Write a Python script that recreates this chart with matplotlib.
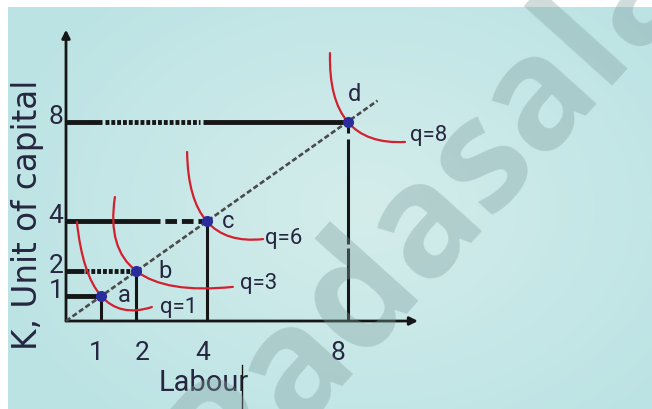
import matplotlib.pyplot as plt
import numpy as np
from matplotlib.path import Path
from matplotlib.patches import PathPatch

# expansion path: equal steps of labour and capital
labour = [1, 2, 4, 8]
capital = [1, 2, 4, 8]
point_names = ["a", "b", "c", "d"]
output_levels = [1, 3, 6, 8]

# isoquant ends (top-left start, bottom-right end), each passes through its point
iso_start_x = [0.31, 1.39, 3.44, 7.50]
iso_start_y = [3.98, 4.98, 6.79, 10.76]
iso_end_x = [2.44, 4.74, 5.60, 9.63]
iso_end_y = [0.56, 1.37, 3.29, 7.19]

x_ticks = [1, 2, 4, 8]
y_ticks = [1, 2, 4, 8]
ray_end = 8.85
x_axis_end = 10.0
y_axis_end = 11.7

font = ["Roboto", "DejaVu Sans"]
ink = "#262640"
red = "#d3202f"
blue = "#2a2c9c"
black = "#161616"

fig = plt.figure(figsize=(6.52, 4.09), dpi=100)
ax = fig.add_axes([0, 0, 1, 1])

# soft cyan backdrop, a little lighter towards the middle
ny, nx = 200, 320
yy, xx = np.mgrid[0:1:ny * 1j, 0:1:nx * 1j]
r = np.sqrt(((xx - 0.55) / 0.6) ** 2 + ((yy - 0.5) / 0.7) ** 2)
t = np.clip(r, 0, 1)[..., None]
inner = np.array([212, 237, 235]) / 255
outer = np.array([188, 227, 228]) / 255
ax.imshow(inner * (1 - t) + outer * t, extent=(-1.648, 16.648, -3.534, 12.61),
          aspect="auto", zorder=0, interpolation="bilinear")

ax.set_xlim(-1.875, 16.648)
ax.set_ylim(-3.534, 12.892)
ax.axis("off")

# watermark
fig.text(0.733, 0.462, "Padasalai", rotation=48, rotation_mode="anchor",
         ha="center", va="baseline", fontsize=112, fontweight="bold",
         family="Open Sans", color="#7f9e9e", alpha=0.37, zorder=1)

# axes with arrow heads
ax.annotate("", xy=(0, y_axis_end), xytext=(0, 0),
            arrowprops=dict(arrowstyle="-|>", color=black, lw=2,
                            mutation_scale=12, shrinkA=0, shrinkB=0), zorder=2)
ax.annotate("", xy=(x_axis_end, 0), xytext=(0, 0),
            arrowprops=dict(arrowstyle="-|>", color=black, lw=2,
                            mutation_scale=12, shrinkA=0, shrinkB=0), zorder=2)

# guide lines from the axes to each point
hl = 3.5
dotted = (0, (0.8, 0.4))
ax.plot([0, 1.02], [8, 8], color=black, lw=hl, solid_capstyle="butt", zorder=2)
ax.plot([1.1, 3.82], [8, 8], color=black, lw=hl, ls=dotted, dash_capstyle="butt", zorder=2)
ax.plot([3.9, 8], [8, 8], color=black, lw=hl, solid_capstyle="butt", zorder=2)
ax.plot([0, 2.67], [4, 4], color=black, lw=hl, solid_capstyle="butt", zorder=2)
ax.plot([2.67, 4], [4, 4], color=black, lw=hl, ls=(2.4, (2.4, 1.0)), dash_capstyle="butt", zorder=2)
ax.plot([0, 0.5], [2, 2], color=black, lw=hl, solid_capstyle="butt", zorder=2)
ax.plot([0.55, 2], [2, 2], color=black, lw=hl, ls=dotted, dash_capstyle="butt", zorder=2)
ax.plot([0, 1], [1, 1], color=black, lw=hl, solid_capstyle="butt", zorder=2)

vl = 2.2
for x, y in zip(labour[:3], capital[:3]):
    ax.plot([x, x], [0, y], color=black, lw=vl, solid_capstyle="butt", zorder=2)
for y0, y1 in [(0, 2.95), (3.1, 7.3), (7.55, 8)]:
    ax.plot([8, 8], [y0, y1], color=black, lw=vl, solid_capstyle="butt", zorder=2)

# expansion ray
ax.plot([0, ray_end], [0, ray_end], color="#4a4a4a", lw=1.9,
        ls=(0, (2, 1)), dash_capstyle="butt", zorder=3)

# isoquants
for xs, ys, xe, ye, xa, ya in zip(iso_start_x, iso_start_y, iso_end_x, iso_end_y,
                                  labour, capital):
    cx = 2 * xa - (xs + xe) / 2
    cy = 2 * ya - (ys + ye) / 2
    path = Path([(xs, ys), (cx, cy), (xe, ye)], [Path.MOVETO, Path.CURVE3, Path.CURVE3])
    ax.add_patch(PathPatch(path, fill=False, edgecolor=red, lw=1.6,
                           capstyle="round", zorder=4))

ax.plot(labour, capital, "o", color=blue, markersize=7, zorder=5)

# point and isoquant labels
name_pos = [(1.65, 1.04), (2.81, 1.97), (4.6, 3.98), (8.21, 9.08)]
for name, (x, y) in zip(point_names, name_pos):
    ax.text(x, y, name, ha="center", va="center", fontsize=17,
            family=font, color=ink, zorder=6)

q_pos = [(2.67, 0.56), (4.94, 1.49), (5.65, 3.33), (9.77, 7.47)]
for q, (x, y) in zip(output_levels, q_pos):
    ax.text(x, y, "q=%d" % q, ha="left", va="center", fontsize=16,
            family=font, color=ink, zorder=6)

# tick numbers
x_nudge = [-0.15, 0.16, -0.11, -0.27]
for v, dx in zip(x_ticks, x_nudge):
    ax.text(v + dx, -1.29, str(v), ha="center", va="center", fontsize=19,
            family=font, color=ink, zorder=6)
for v in y_ticks:
    ax.text(-0.29, v + 0.2, str(v), ha="center", va="center", fontsize=19,
            family=font, color=ink, zorder=6)

ax.text(3.92, -2.49, "Labour", ha="center", va="center", fontsize=21,
        family=font, color=ink, zorder=6)
ax.plot([5.0, 5.0], [-1.77, -3.6], color=black, lw=1, zorder=6)

ax.text(-1.1, 4.26, "K, Unit of capital", rotation=90, ha="center", va="center",
        fontsize=23.5, family="DejaVu Sans", color=ink, zorder=6)

fig.savefig("out.png", dpi=100)
